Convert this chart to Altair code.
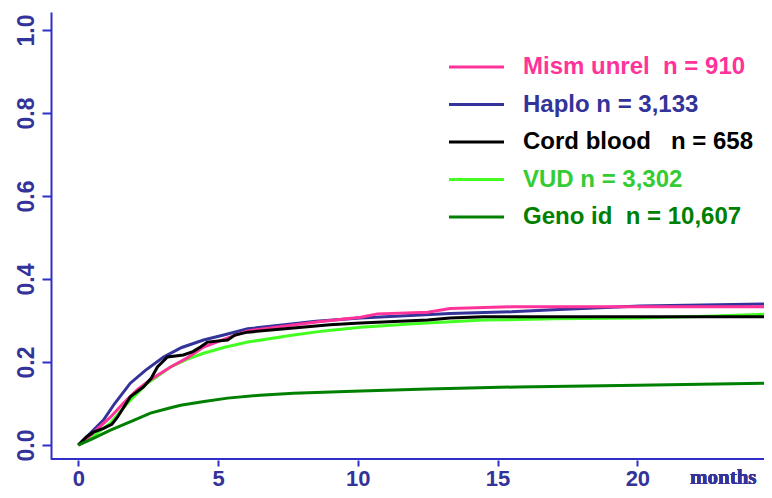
import altair as alt
import pandas as pd

# ---- data ----
labels = ["Mism unrel\u00a0\u00a0n = 910", "Haplo n = 3,133", "Cord blood\u00a0\u00a0\u00a0n = 658",
          "VUD n = 3,302", "Geno id\u00a0\u00a0n = 10,607"]
line_colors = ["#ff3399", "#333399", "#000000", "#44ff22", "#008000"]
text_colors = ["#ff3399", "#333399", "#000000", "#33cc33", "#008000"]

mism_t = [0, 0.3, 0.7, 1.15, 1.6, 2.1, 2.58, 3.3, 3.9, 4.48, 5.3, 6.06, 7.7, 8.6, 10.1, 10.7, 12.5, 13.3, 15.5, 20.1, 24.9]
mism_v = [0, 0.015, 0.04, 0.067, 0.1, 0.133, 0.157, 0.188, 0.21, 0.236, 0.257, 0.275, 0.289, 0.297, 0.308, 0.316, 0.32, 0.329, 0.333, 0.333, 0.333]

haplo_t = [0, 0.3, 0.9, 1.3, 1.86, 2.4, 3.05, 3.7, 4.48, 5.2, 6.06, 7.7, 8.5, 10.1, 13.3, 15.5, 17, 20.1, 24.9]
haplo_v = [0, 0.02, 0.06, 0.1, 0.149, 0.18, 0.212, 0.235, 0.253, 0.265, 0.28, 0.292, 0.298, 0.306, 0.317, 0.321, 0.326, 0.335, 0.34]

cord_t = [0, 0.3, 0.54, 0.9, 1.2, 1.4, 1.86, 2.33, 2.6, 2.83, 3.19, 3.76, 4.1, 4.37, 4.62, 5.34, 5.6, 6.06, 7.7, 9, 10.1, 11.5, 12.5, 13.3, 14.5, 24.9]
cord_v = [0, 0.02, 0.031, 0.04, 0.05, 0.067, 0.116, 0.14, 0.16, 0.188, 0.212, 0.217, 0.225, 0.236, 0.248, 0.253, 0.265, 0.272, 0.282, 0.29, 0.294, 0.298, 0.301, 0.306, 0.309, 0.309]

vud_t = [0, 0.3, 0.6, 1.15, 1.75, 2.47, 3.3, 3.9, 4.48, 5.2, 6.06, 7.7, 8.8, 10.1, 12, 14.5, 17, 20.1, 22.5, 24.9]
vud_v = [0, 0.012, 0.025, 0.053, 0.1, 0.149, 0.188, 0.207, 0.221, 0.235, 0.248, 0.265, 0.275, 0.284, 0.292, 0.301, 0.304, 0.306, 0.31, 0.316]

geno_t = [0, 0.5, 1.15, 2, 2.58, 3.2, 3.66, 4.5, 5.34, 6.5, 7.7, 10.1, 12.5, 15.7, 20, 24.9]
geno_v = [0, 0.015, 0.036, 0.06, 0.077, 0.088, 0.096, 0.105, 0.113, 0.12, 0.125, 0.13, 0.135, 0.14, 0.144, 0.149]

x_ticks = [0, 5, 10, 15, 20]
y_ticks = [0.0, 0.2, 0.4, 0.6, 0.8, 1.0]

# ---- build tables ----
curves = {labels[0]: (mism_t, mism_v), labels[1]: (haplo_t, haplo_v), labels[2]: (cord_t, cord_v),
          labels[3]: (vud_t, vud_v), labels[4]: (geno_t, geno_v)}
draw_order = [labels[1], labels[3], labels[0], labels[2], labels[4]]
rows = []
for k, s in enumerate(draw_order):
    t, v = curves[s]
    for i, (a, b) in enumerate(zip(t, v)):
        rows.append({"series": s, "month": a, "value": b, "ord": k * 1000 + i})
df = pd.DataFrame(rows)
leg = pd.DataFrame({"series": labels})

AXIS_BLUE = "#2f2fc8"
LABEL_BLUE = "#333399"
FONT = "Liberation Sans"
W, H = 713, 447

stroke_scale = alt.Scale(domain=labels, range=line_colors)
fill_scale = alt.Scale(domain=labels, range=text_colors)

lines = alt.Chart(df).mark_line(strokeWidth=3, clip=True).encode(
    x=alt.X("month:Q", title=None,
            scale=alt.Scale(domain=[-0.977, 24.53], nice=False, zero=False),
            axis=alt.Axis(values=x_ticks, domain=False, offset=1, tickSize=6, tickWidth=2,
                          tickColor=AXIS_BLUE, labelPadding=2, labelFont=FONT, labelFontSize=22,
                          labelFontWeight="bold", labelColor=LABEL_BLUE, grid=False, labelFlush=False)),
    y=alt.Y("value:Q", title=None,
            scale=alt.Scale(domain=[-0.0337, 1.0434], nice=False, zero=False),
            axis=alt.Axis(values=y_ticks, format=".1f", domain=True, domainColor=AXIS_BLUE, domainWidth=2,
                          tickSize=9, tickWidth=2, tickColor=AXIS_BLUE, labelAngle=270,
                          labelAlign="center", labelBaseline="bottom", labelPadding=4,
                          labelFont=FONT, labelFontSize=23, labelFontWeight="bold",
                          labelColor=LABEL_BLUE, grid=False, labelFlush=False)),
    stroke=alt.Stroke("series:N", scale=stroke_scale, legend=None),
    detail="series:N",
    order="ord:Q",
)

xaxis_line = alt.Chart(leg).mark_rule(color=AXIS_BLUE, strokeWidth=2).encode(
    x=alt.value(0), x2=alt.value(W), y=alt.value(H))

months = alt.Chart(leg).mark_text(text="months", font="Liberation Serif", fontSize=21, fontWeight="bold",
                                  color=LABEL_BLUE, align="left", baseline="alphabetic").encode(
    x=alt.value(639), y=alt.value(472))

main = alt.layer(lines, xaxis_line, months)

leg_y = alt.Y("series:N", scale=alt.Scale(type="point", domain=labels, range=[55, 205], padding=0),
              axis=None)
leg_rules = alt.Chart(leg).mark_rule(strokeWidth=3).encode(
    x=alt.value(398), x2=alt.value(453), y=leg_y,
    stroke=alt.Stroke("series:N", scale=stroke_scale, legend=None))
leg_text = alt.Chart(leg).mark_text(align="left", baseline="middle", font=FONT, fontSize=24,
                                    fontWeight="bold").encode(
    x=alt.value(472), y=leg_y, text="series:N",
    fill=alt.Fill("series:N", scale=fill_scale, legend=None))
legend_layer = alt.layer(leg_rules, leg_text)

chart = alt.layer(main, legend_layer).resolve_scale(y="independent").properties(
    width=W, height=H, autosize="none",
    padding={"left": 43, "top": 4, "right": 0, "bottom": 31},
    background="white",
).configure_view(stroke=None)

chart.save("out.html", embed_options={"renderer": "svg", "actions": False})
